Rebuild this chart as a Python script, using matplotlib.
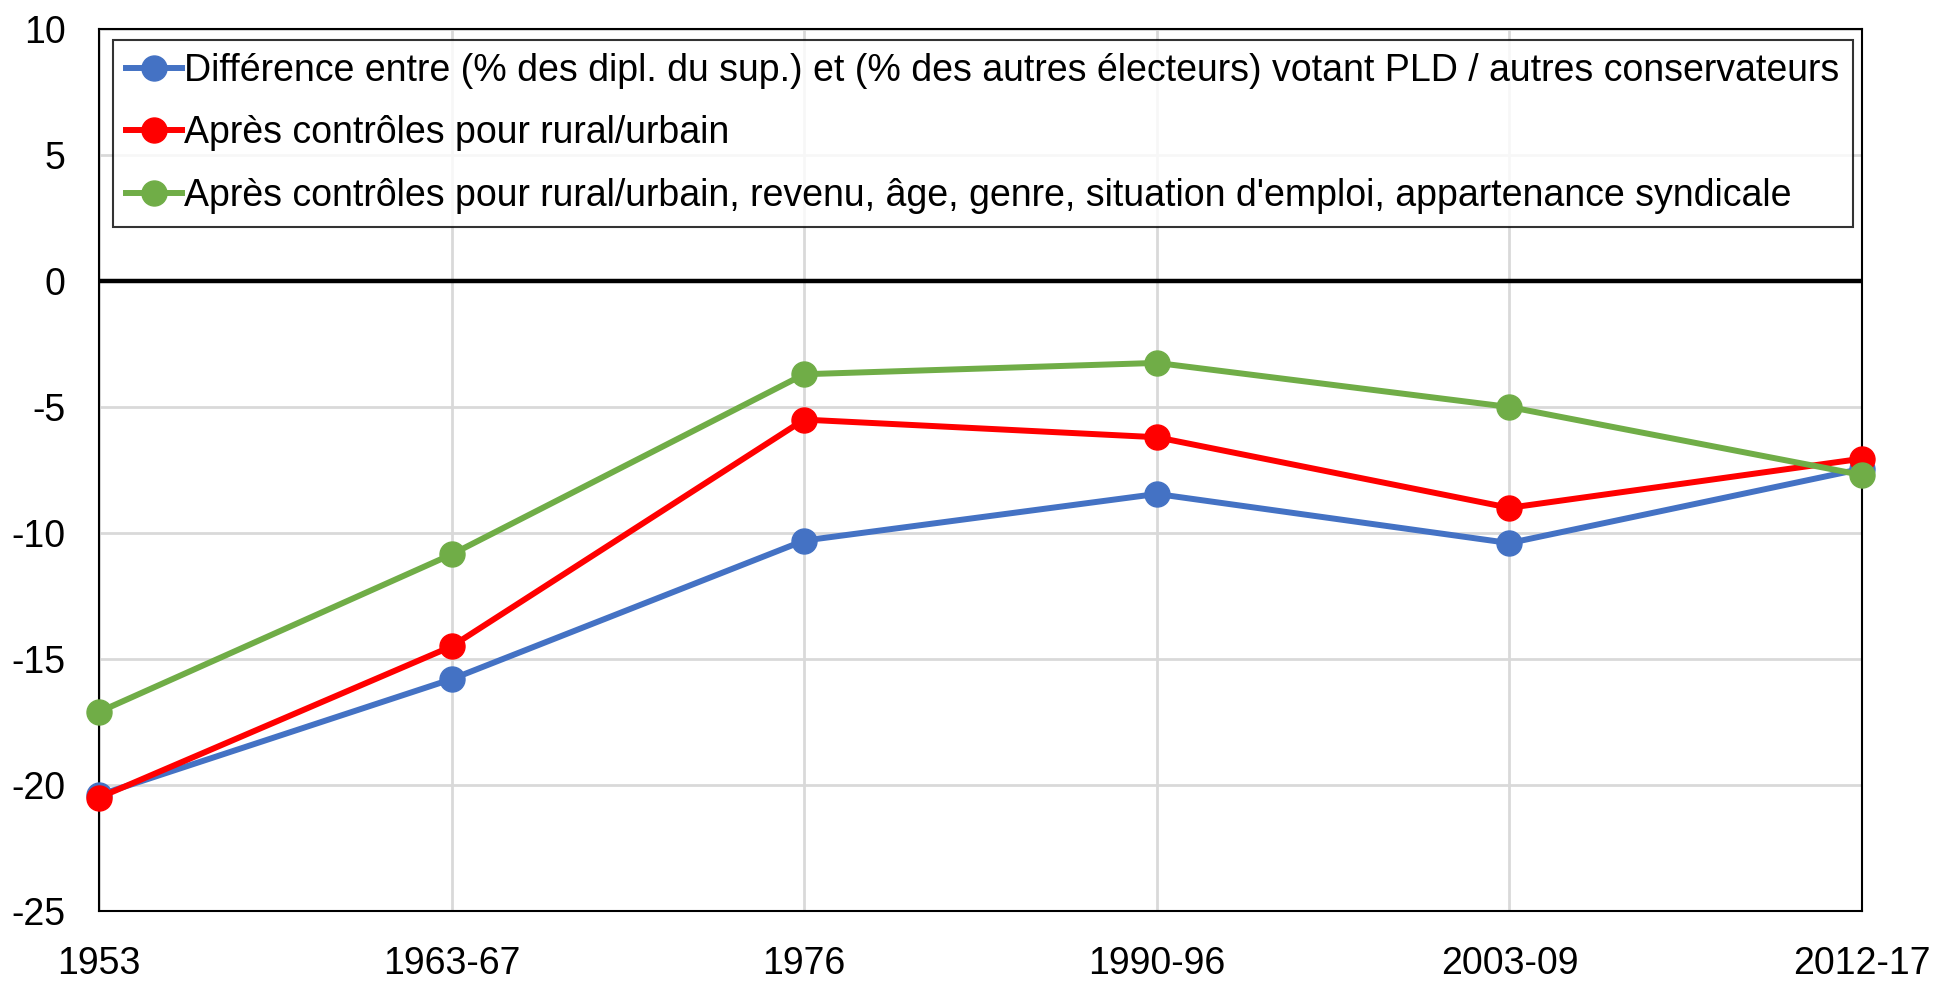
import numpy as np
import matplotlib
matplotlib.use("Agg")
import matplotlib.pyplot as plt

plt.rcParams['font.family'] = ['Liberation Sans', 'DejaVu Sans']
plt.rcParams['axes.unicode_minus'] = False

periods = ["1953", "1963-67", "1976", "1990-96", "2003-09", "2012-17"]
raw_diff = [-20.4, -15.8, -10.3, -8.45, -10.4, -7.45]
ctrl_rural = [-20.5, -14.5, -5.5, -6.2, -9.0, -7.05]
ctrl_all = [-17.1, -10.85, -3.7, -3.25, -5.0, -7.7]

labels = [
    "Différence entre (% des dipl. du sup.) et (% des autres électeurs) votant PLD / autres conservateurs",
    "Après contrôles pour rural/urbain",
    "Après contrôles pour rural/urbain, revenu, âge, genre, situation d'emploi, appartenance syndicale",
]
colors = ["#4472C4", "#FF0000", "#70AD47"]

fig = plt.figure(figsize=(19.35, 9.83), dpi=100)
ax = fig.add_axes([99 / 1935, 1 - 911 / 983, (1862 - 99) / 1935, (911 - 29) / 983])

x = np.arange(len(periods))
for series, lab, col in zip([raw_diff, ctrl_rural, ctrl_all], labels, colors):
    ax.plot(x, series, color=col, linewidth=4.3, marker='o', markersize=18,
            label=lab, zorder=3, clip_on=False)

ax.axhline(0, color='black', linewidth=3.2, zorder=2)

ax.set_xlim(0, len(periods) - 1)
ax.set_ylim(-25, 10)
ax.set_xticks(x)
ax.set_xticklabels(periods)
ax.set_yticks(np.arange(-25, 11, 5))
ax.grid(True, color='#d9d9d9', linewidth=2, zorder=0)
ax.tick_params(axis='both', length=0, labelsize=27)
ax.tick_params(axis='x', pad=25)
ax.tick_params(axis='y', pad=24)
for s in ax.spines.values():
    s.set_color('black')
    s.set_linewidth(1.5)

leg = ax.legend(loc='upper left', bbox_to_anchor=(14 / 1763, 1 - 11 / 882),
                fontsize=27, frameon=True, fancybox=False, edgecolor='black',
                handlelength=1.5, handletextpad=0.05, labelspacing=0.7,
                borderpad=0.35, borderaxespad=0)
leg.get_frame().set_linewidth(1.5)

fig.savefig("out.png", dpi=100)
